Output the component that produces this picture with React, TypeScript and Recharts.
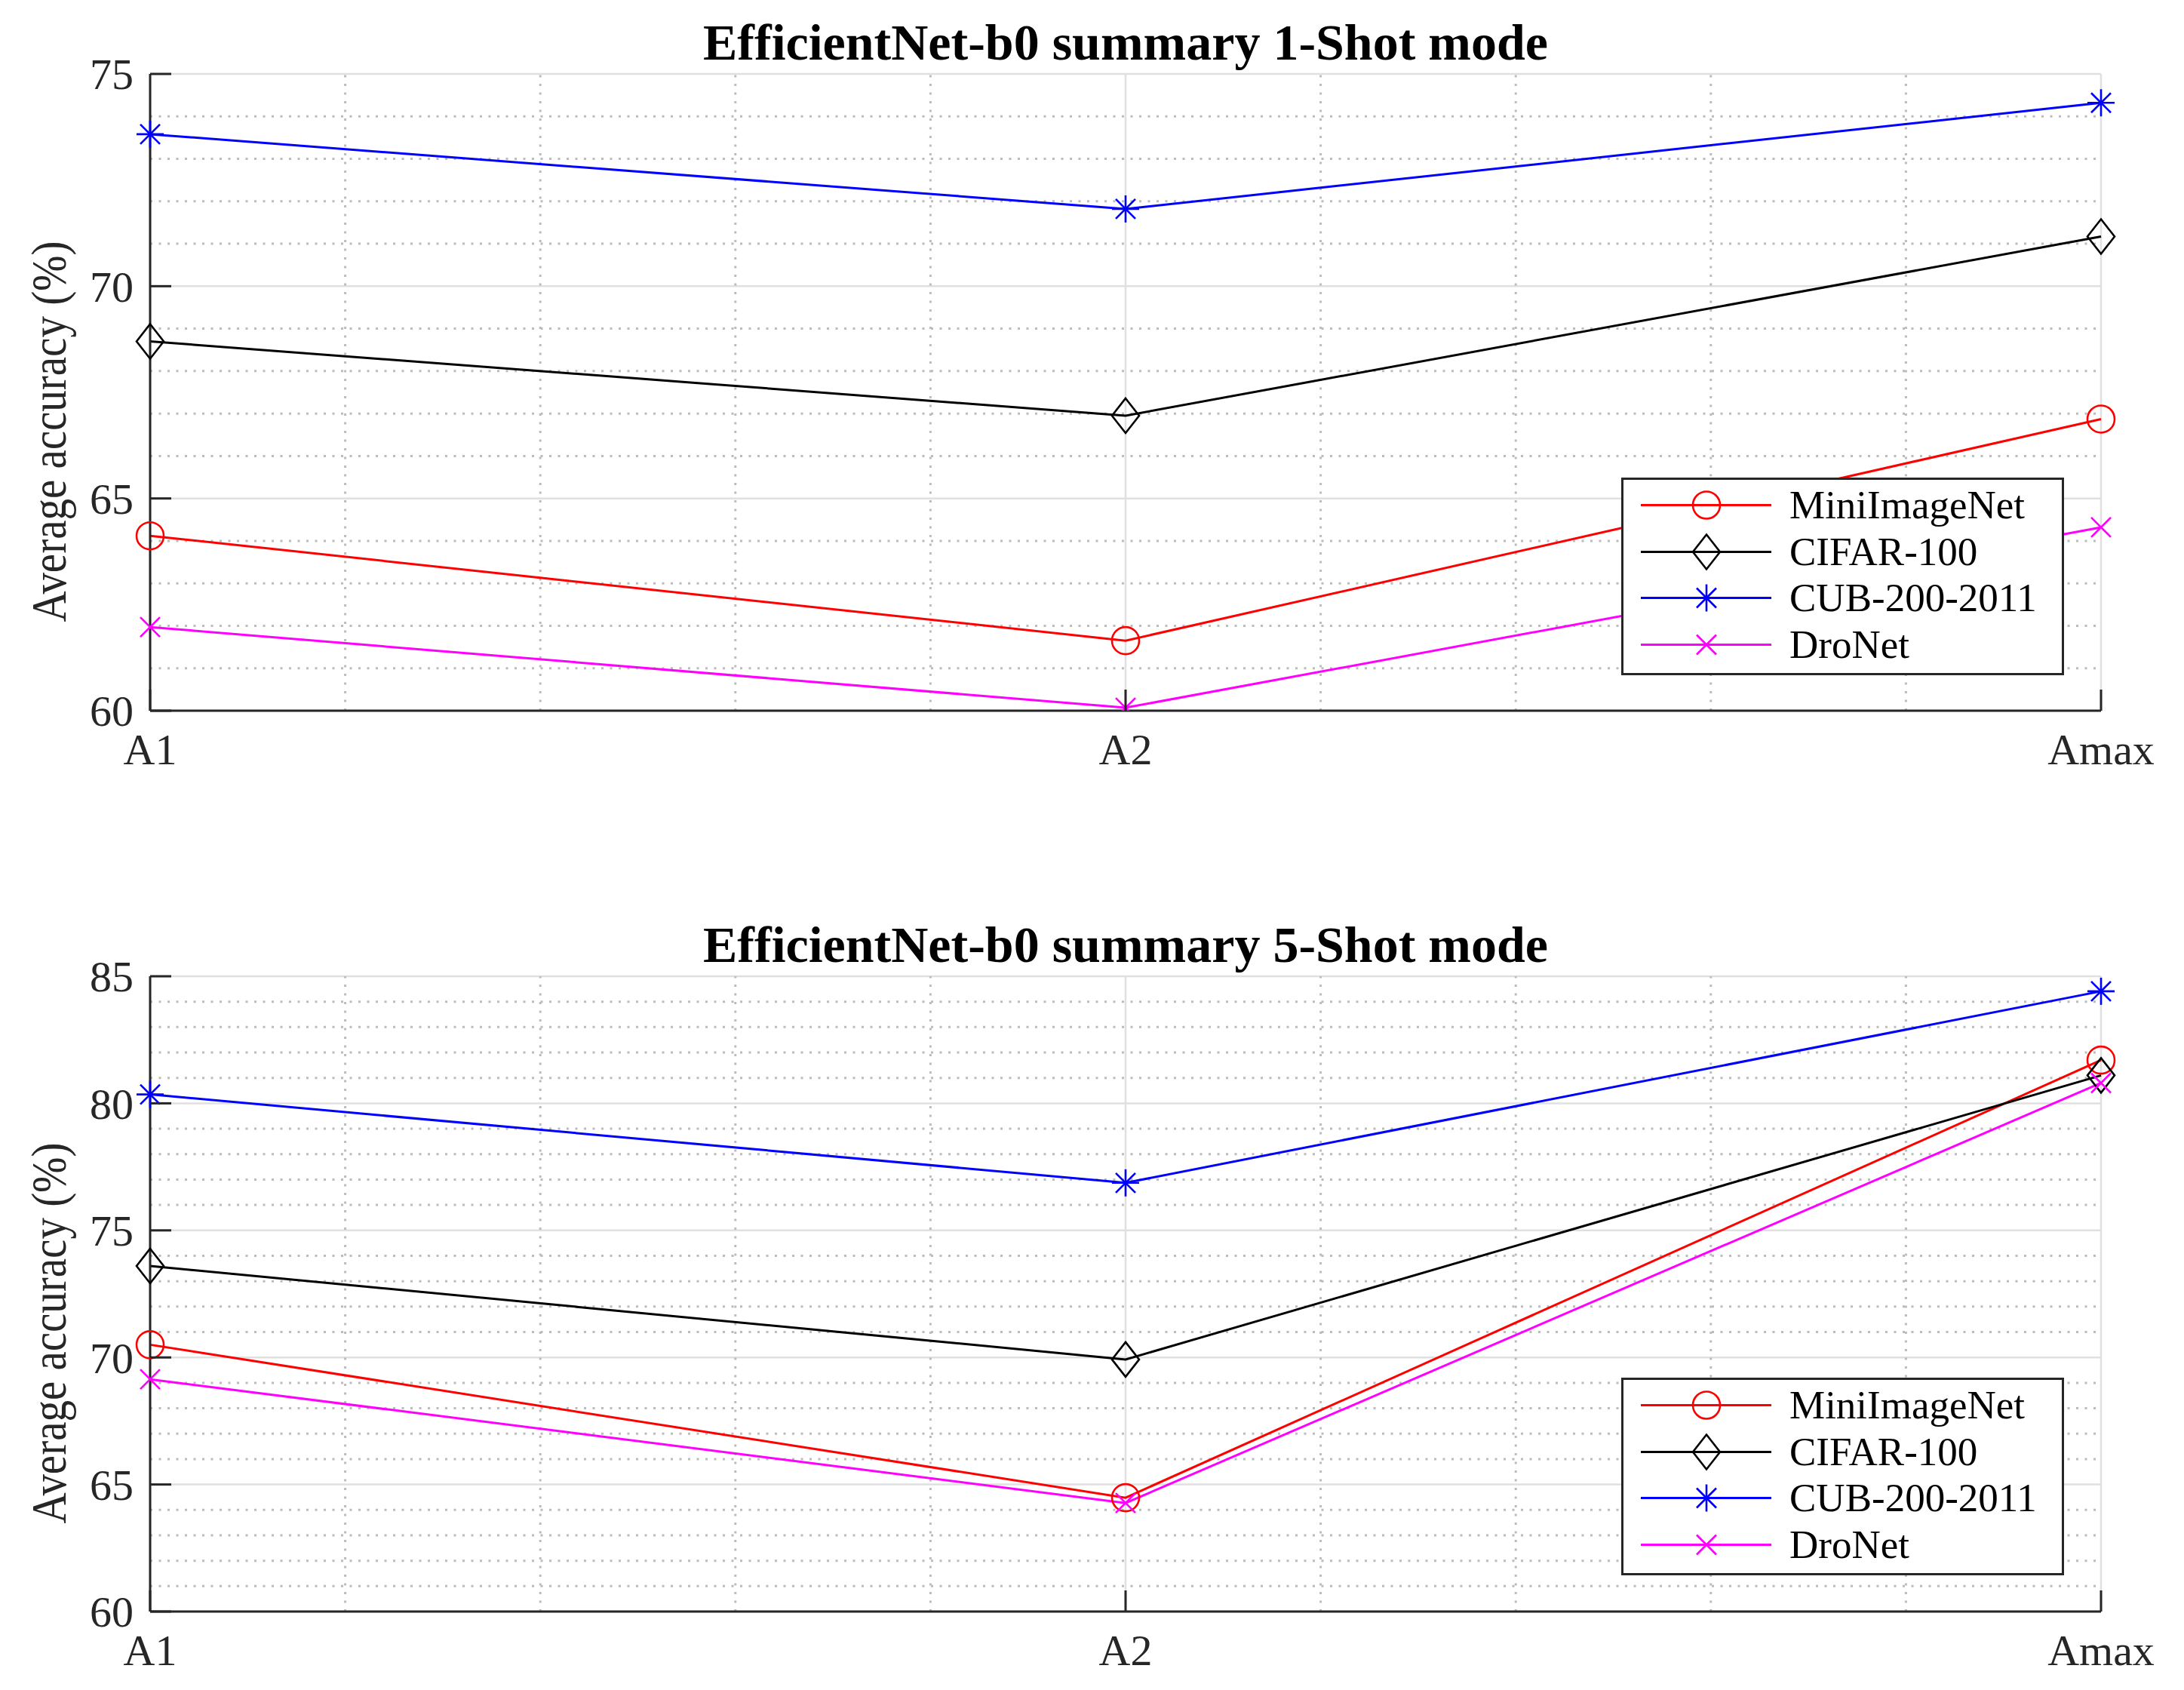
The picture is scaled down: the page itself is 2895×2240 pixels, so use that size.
import React from 'react';
import { LineChart, Line, XAxis, YAxis, CartesianGrid, ReferenceLine, Legend, Label } from 'recharts';

// ---------- data ----------
const categories = ['A1', 'A2', 'Amax'];
const seriesNames = ['MiniImageNet', 'CIFAR-100', 'CUB-200-2011', 'DroNet'];

const oneShotMini = [64.12, 61.65, 66.87];
const oneShotCifar = [68.7, 66.95, 71.17];
const oneShotCub = [73.58, 71.82, 74.32];
const oneShotDro = [61.97, 60.07, 64.32];

const fiveShotMini = [70.5, 64.48, 81.7];
const fiveShotCifar = [73.6, 69.92, 81.1];
const fiveShotCub = [80.35, 76.87, 84.41];
const fiveShotDro = [69.14, 64.27, 80.8];

const xTicks = [0, 1, 2];
const xMinorTicks = [0.2, 0.4, 0.6, 0.8, 1.2, 1.4, 1.6, 1.8];
const oneShotYTicks = [60, 65, 70, 75];
const oneShotYMinor = [61, 62, 63, 64, 66, 67, 68, 69, 71, 72, 73, 74];
const fiveShotYTicks = [60, 65, 70, 75, 80, 85];
const fiveShotYMinor = [61, 62, 63, 64, 66, 67, 68, 69, 71, 72, 73, 74, 76, 77, 78, 79, 81, 82, 83, 84];

const title1 = 'EfficientNet-b0 summary 1-Shot mode';
const title2 = 'EfficientNet-b0 summary 5-Shot mode';
const yLabel = 'Average accuracy (%)';

// ---------- styling ----------
const FONT = "'Liberation Serif', 'Times New Roman', serif";
const AXIS = '#262626';
const seriesStyle = [
  { key: 'mini', color: '#ff0000', marker: 'circle' },
  { key: 'cifar', color: '#000000', marker: 'diamond' },
  { key: 'cub', color: '#0000ff', marker: 'asterisk' },
  { key: 'dro', color: '#ff00ff', marker: 'x' },
];

const buildData = (mini: number[], cifar: number[], cub: number[], dro: number[]) =>
  categories.map((c, i) => ({ x: i, cat: c, mini: mini[i], cifar: cifar[i], cub: cub[i], dro: dro[i] }));

const data1 = buildData(oneShotMini, oneShotCifar, oneShotCub, oneShotDro);
const data2 = buildData(fiveShotMini, fiveShotCifar, fiveShotCub, fiveShotDro);

function Marker({ type, cx, cy, color }: { type: string; cx: number; cy: number; color: string }) {
  const sw = 2.6;
  if (type === 'circle') return <circle cx={cx} cy={cy} r={18} fill="none" stroke={color} strokeWidth={sw} />;
  if (type === 'diamond')
    return (
      <polygon
        points={`${cx},${cy - 23} ${cx + 18},${cy} ${cx},${cy + 23} ${cx - 18},${cy}`}
        fill="none"
        stroke={color}
        strokeWidth={sw}
      />
    );
  if (type === 'asterisk')
    return (
      <g stroke={color} strokeWidth={sw}>
        <line x1={cx} y1={cy - 18} x2={cx} y2={cy + 18} />
        <line x1={cx - 18} y1={cy} x2={cx + 18} y2={cy} />
        <line x1={cx - 13} y1={cy - 13} x2={cx + 13} y2={cy + 13} />
        <line x1={cx - 13} y1={cy + 13} x2={cx + 13} y2={cy - 13} />
      </g>
    );
  return (
    <g stroke={color} strokeWidth={sw}>
      <line x1={cx - 13} y1={cy - 13} x2={cx + 13} y2={cy + 13} />
      <line x1={cx - 13} y1={cy + 13} x2={cx + 13} y2={cy - 13} />
    </g>
  );
}

const makeDot = (type: string, color: string, key: string) => (p: any) => (
  <g key={`${key}-${p.index}`}>
    {p.cx != null && p.cy != null ? <Marker type={type} cx={p.cx} cy={p.cy} color={color} /> : null}
  </g>
);

const YTick = (props: any) => {
  const { x, y, payload } = props;
  return (
    <g>
      <line x1={x} y1={y} x2={x + 28} y2={y} stroke={AXIS} strokeWidth={3} />
      <text x={x - 22} y={y} dy="0.35em" textAnchor="end" fontSize={58} fill={AXIS} fontFamily={FONT}>
        {payload.value}
      </text>
    </g>
  );
};

const XTick = (props: any) => {
  const { x, y, payload } = props;
  return (
    <g>
      <line x1={x} y1={y} x2={x} y2={y - 28} stroke={AXIS} strokeWidth={3} />
      <text x={x} y={y + 30} dy="0.71em" textAnchor="middle" fontSize={58} fill={AXIS} fontFamily={FONT}>
        {categories[payload.value]}
      </text>
    </g>
  );
};

const YLabelContent = (props: any) => {
  const vb = props.viewBox || { x: 0, y: 0, width: 199, height: 0 };
  const cy = vb.y + vb.height / 2 + 52;
  return (
    <text
      transform={`translate(87, ${cy}) rotate(-90) scale(1, 1.15)`}
      textAnchor="middle"
      fontSize={57}
      fill={AXIS}
      fontFamily={FONT}
    >
      {yLabel}
    </text>
  );
};

const LegendBox = () => (
  <div
    style={{
      width: 587,
      height: 262,
      boxSizing: 'border-box',
      border: `3px solid ${AXIS}`,
      background: '#ffffff',
      position: 'relative',
    }}
  >
    {seriesStyle.map((s, i) => (
      <div
        key={s.key}
        style={{ position: 'absolute', left: 0, top: 3 + i * 61.5, height: 61, display: 'flex', alignItems: 'center' }}
      >
        <svg width={220} height={61} style={{ display: 'block' }}>
          <line x1={23} x2={196} y1={30.5} y2={30.5} stroke={s.color} strokeWidth={3} />
          <Marker type={s.marker} cx={110} cy={30.5} color={s.color} />
        </svg>
        <span style={{ fontSize: 53, fontFamily: FONT, color: '#000', whiteSpace: 'nowrap', lineHeight: '61px' }}>
          {seriesNames[i]}
        </span>
      </div>
    ))}
  </div>
);

function Panel({
  data,
  yTicks,
  yMinor,
  domain,
  height,
  top,
  xAxisHeight,
  legendTop,
}: {
  data: any[];
  yTicks: number[];
  yMinor: number[];
  domain: [number, number];
  height: number;
  top: number;
  xAxisHeight: number;
  legendTop: number;
}) {
  return (
    <LineChart width={2895} height={height} data={data} margin={{ top, right: 110, bottom: 0, left: 0 }}>
      <CartesianGrid stroke="#e0e0e0" strokeWidth={2.5} />
      {yMinor.map((v) => (
        <ReferenceLine key={`ym${v}`} y={v} stroke="#bcbcbc" strokeWidth={3} strokeDasharray="3 8.5" />
      ))}
      {xMinorTicks.map((v) => (
        <ReferenceLine key={`xm${v}`} x={v} stroke="#bcbcbc" strokeWidth={3} strokeDasharray="3 8.5" />
      ))}
      <XAxis
        dataKey="x"
        type="number"
        domain={[0, 2]}
        ticks={xTicks}
        height={xAxisHeight}
        tickSize={0}
        tickMargin={0}
        tickLine={false}
        axisLine={{ stroke: AXIS, strokeWidth: 3 }}
        tick={<XTick />}
        interval={0}
      />
      <YAxis
        type="number"
        domain={domain}
        ticks={yTicks}
        width={199}
        tickSize={0}
        tickMargin={0}
        tickLine={false}
        axisLine={{ stroke: AXIS, strokeWidth: 3 }}
        tick={<YTick />}
        interval={0}
        allowDataOverflow
      >
        <Label content={<YLabelContent />} />
      </YAxis>
      <Legend
        layout="horizontal"
        verticalAlign="middle"
        align="center"
        content={() => <LegendBox />}
        wrapperStyle={{ left: 2149, top: legendTop, width: 587, height: 262 }}
      />
      {seriesStyle.map((s) => (
        <Line
          key={s.key}
          type="linear"
          dataKey={s.key}
          stroke={s.color}
          strokeWidth={3}
          dot={makeDot(s.marker, s.color, s.key)}
          activeDot={false}
          isAnimationActive={false}
        />
      ))}
    </LineChart>
  );
}

const titleStyle: React.CSSProperties = {
  position: 'absolute',
  left: 199,
  width: 2586,
  textAlign: 'center',
  fontFamily: FONT,
  fontWeight: 'bold',
  fontSize: 68,
  lineHeight: 1,
  color: '#000',
  whiteSpace: 'nowrap',
};

export default function App() {
  return (
    <div style={{ position: 'absolute', left: 0, top: 0, width: 2895, height: 2240, background: '#ffffff' }}>
      <div style={{ position: 'absolute', left: 0, top: 0 }}>
        <Panel
          data={data1}
          yTicks={oneShotYTicks}
          yMinor={oneShotYMinor}
          domain={[60, 75]}
          height={1100}
          top={98}
          xAxisHeight={158}
          legendTop={633}
        />
      </div>
      <div style={{ position: 'absolute', left: 0, top: 1150 }}>
        <Panel
          data={data2}
          yTicks={fiveShotYTicks}
          yMinor={fiveShotYMinor}
          domain={[60, 85]}
          height={1090}
          top={144}
          xAxisHeight={104}
          legendTop={676}
        />
      </div>
      <div style={{ ...titleStyle, top: 22 }}>{title1}</div>
      <div style={{ ...titleStyle, top: 1218 }}>{title2}</div>
    </div>
  );
}
